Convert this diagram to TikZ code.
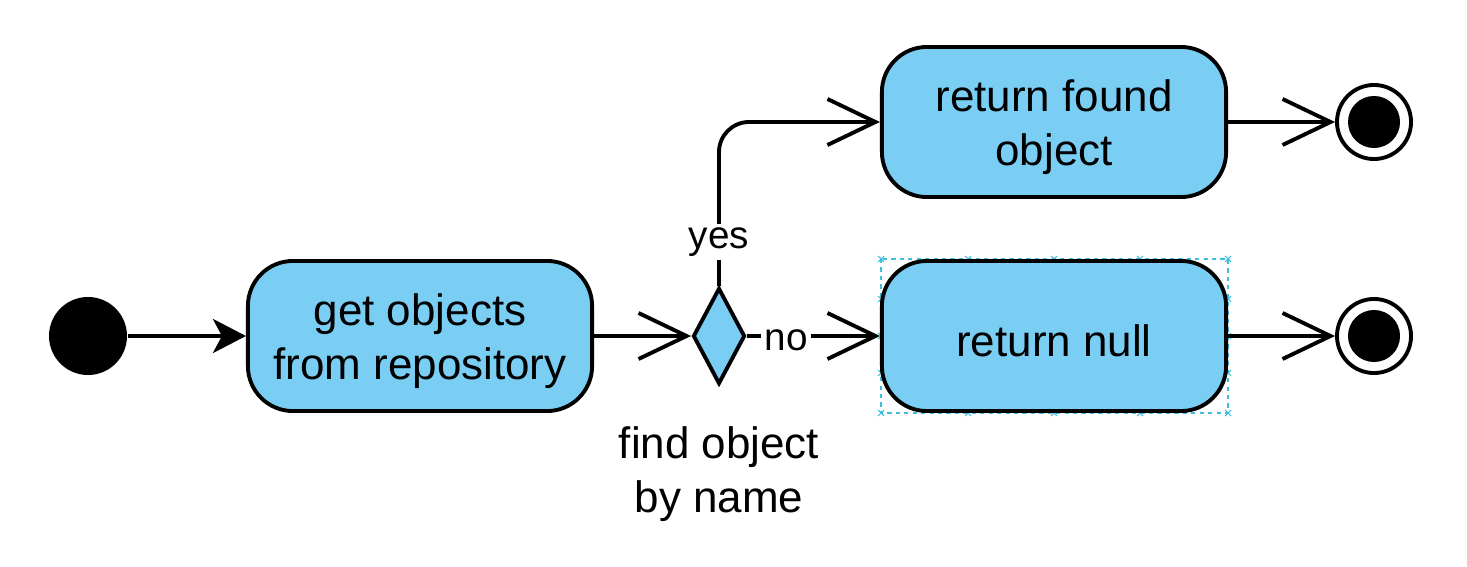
\documentclass[tikz,border=0pt]{standalone}
\usepackage{fontspec}
\setmainfont{Liberation Sans}
\usetikzlibrary{shapes.geometric,arrows.meta}
\definecolor{actfill}{RGB}{122,206,244}
\definecolor{selcol}{RGB}{60,190,220}
\begin{document}
\begin{tikzpicture}[x=0.01cm,y=-0.01cm,
  lw/.style={line width=1.1pt},
  action/.style={lw,draw=black,fill=actfill,rounded corners=0.45cm,minimum width=3.44cm,minimum height=1.5cm,inner sep=0pt},
  acttext/.style={align=center,inner sep=0pt,font=\fontsize{12.5}{15.2}\selectfont},
  startnode/.style={circle,fill=black,minimum size=0.78cm,inner sep=0pt},
  endouter/.style={circle,lw,draw=black,fill=white,minimum size=0.74cm,inner sep=0pt},
  endinner/.style={circle,fill=black,minimum size=0.52cm,inner sep=0pt},
  decision/.style={diamond,lw,draw=black,fill=actfill,minimum width=0.52cm,minimum height=0.96cm,inner sep=0pt},
  conn/.style={lw,-{Straight Barb[length=4.8mm,width=4.6mm,line width=1.1pt]}},
  connf/.style={lw,-{Stealth[length=3.3mm,width=3.4mm,inset=0.9mm]}},
  lbl/.style={fill=white,inner sep=1pt,font=\fontsize{11}{13}\selectfont},
  caption/.style={align=center,font=\fontsize{12.5}{15.2}\selectfont},
  handle/.style={selcol,line width=0.3pt}
]
\useasboundingbox (0,0) rectangle (1467,567);
% selection frame
\draw[selcol,line width=0.4pt,dash pattern=on 1.2pt off 1.2pt] (881,259) rectangle (1228,413);
\foreach \hx/\hy in {881/259,968/259,1054/259,1140/259,1228/259,881/413,968/413,1054/413,1140/413,1228/413,881/299,881/336,881/373,1228/299,1228/336,1228/373}{
  \draw[handle] (\hx-3,\hy-3) -- (\hx+3,\hy+3) (\hx-3,\hy+3) -- (\hx+3,\hy-3);
}
\node[startnode] (init) at (88,336) {};
\node[action] (get) at (420,336) {};
\node[acttext] (gettext) at (420,341) {get objects\\from repository};
\node[decision] (dec) at (719,336) {};
\node[caption] (cap) at (719,474) {find object\\by name};
\node[action] (found) at (1054,122) {};
\node[acttext] (foundtext) at (1054,127) {return found\\object};
\node[action] (null) at (1054,336) {};
\node[acttext] (nulltext) at (1054,341) {return null};
\node[endouter] (end1) at (1374,122) {};
\node[endinner] (end1i) at (1374,122) {};
\node[endouter] (end2) at (1374,336) {};
\node[endinner] (end2i) at (1374,336) {};
\draw[connf] (init) -- (get.west);
\draw[conn] (get.east) -- (dec.west);
\draw[conn,rounded corners=0.3cm] (dec.north) |- (found.west);
\node[lbl] (yes) at (719,242) {yes};
\draw[conn] (dec.east) -- (null.west);
\node[lbl] (no) at (786,340) {no};
\draw[conn] (found.east) -- (end1.west);
\draw[conn] (null.east) -- (end2.west);
\end{tikzpicture}
\end{document}
